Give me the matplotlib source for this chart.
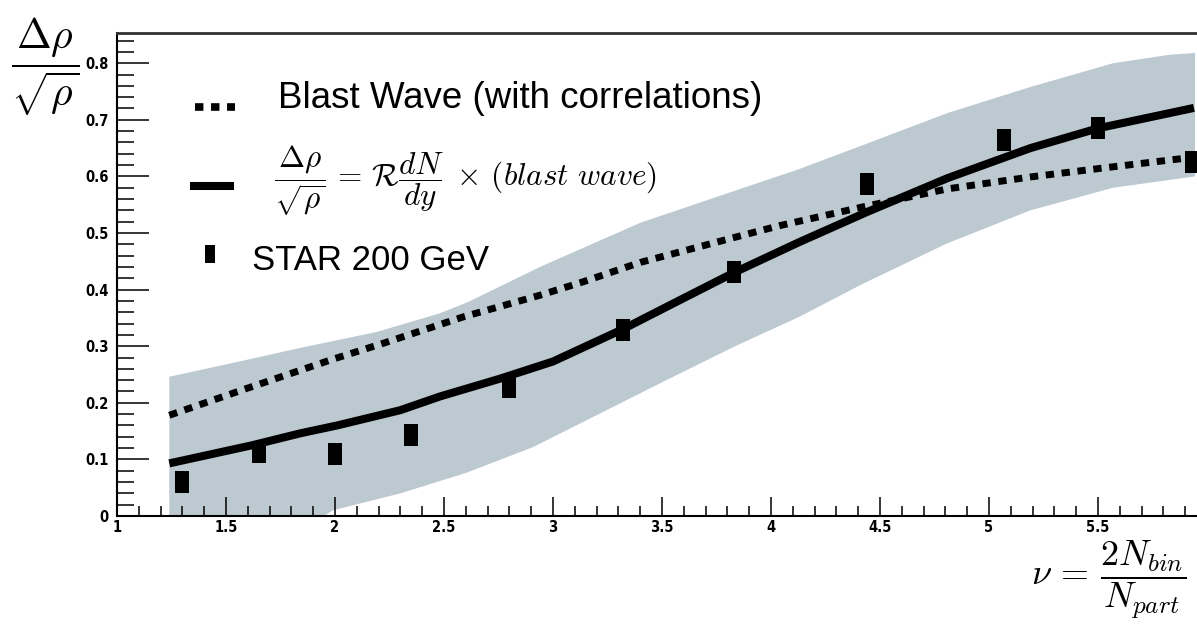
import numpy as np
import matplotlib
matplotlib.use("Agg")
import matplotlib.pyplot as plt
from matplotlib.lines import Line2D
from matplotlib.path import Path
from matplotlib.ticker import MultipleLocator

plt.rcParams['mathtext.fontset'] = 'cm'

# STAR 200 GeV points
star_x = [1.30, 1.65, 2.00, 2.35, 2.80, 3.32, 3.83, 4.44, 5.07, 5.50, 5.93]
star_y = [0.060, 0.113, 0.110, 0.143, 0.228, 0.329, 0.431, 0.587, 0.664, 0.685, 0.625]

# R dN/dy x (blast wave), solid curve
scaled_x = [1.24, 1.62, 1.84, 2.01, 2.30, 2.48, 2.76, 3.00, 3.32, 3.60, 3.83,
            4.13, 4.44, 4.81, 5.19, 5.50, 5.94]
scaled_y = [0.093, 0.125, 0.146, 0.160, 0.187, 0.211, 0.243, 0.273, 0.330, 0.385, 0.430,
            0.484, 0.537, 0.597, 0.650, 0.685, 0.721]

# blast wave with correlations, dotted curve
bw_x = [1.24, 1.60, 1.99, 2.22, 2.59, 2.94, 3.14, 3.40, 3.86, 4.04, 4.42,
        4.81, 5.19, 5.57, 5.94]
bw_y = [0.178, 0.226, 0.277, 0.305, 0.352, 0.390, 0.414, 0.448, 0.495, 0.513, 0.546,
        0.578, 0.599, 0.617, 0.634]

# uncertainty band edges
band_hi_x = [1.24, 1.62, 1.84, 2.19, 2.48, 2.61, 2.94, 3.40, 3.86, 4.13, 4.42,
             4.81, 5.19, 5.57, 5.83, 5.945]
band_hi_y = [0.246, 0.278, 0.297, 0.325, 0.358, 0.378, 0.440, 0.518, 0.578, 0.613, 0.655,
             0.712, 0.758, 0.800, 0.815, 0.818]
band_lo_x = [1.24, 1.95, 1.99, 2.30, 2.60, 2.91, 3.22, 3.52, 3.83, 4.13, 4.42, 4.81,
             5.19, 5.57, 5.945]
band_lo_y = [0.0, 0.0, 0.010, 0.040, 0.076, 0.122, 0.182, 0.240, 0.299, 0.352, 0.410, 0.482,
             0.540, 0.580, 0.600]

x_ticks = [1, 1.5, 2, 2.5, 3, 3.5, 4, 4.5, 5, 5.5]
x_labels = ['1', '1.5', '2', '2.5', '3', '3.5', '4', '4.5', '5', '5.5']
y_ticks = [0, 0.1, 0.2, 0.3, 0.4, 0.5, 0.6, 0.7, 0.8]
y_labels = ['0', '0.1', '0.2', '0.3', '0.4', '0.5', '0.6', '0.7', '0.8']

W, H = 1197, 625
fig = plt.figure(figsize=(W / 100, H / 100), dpi=100)
x0, x1, ytop, ybot = 117, 1197, 33, 516
ax = fig.add_axes([x0 / W, (H - ybot) / H, (x1 - x0) / W, (ybot - ytop) / H])

band = '#bdc9d1'
ax.fill(np.concatenate([band_hi_x, band_lo_x[::-1]]),
        np.concatenate([band_hi_y, band_lo_y[::-1]]),
        color=band, lw=0, zorder=1)

ax.plot(bw_x, bw_y, color='black', lw=5, dashes=(1.2, 1.1),
        dash_capstyle='butt', zorder=3)
ax.plot(scaled_x, scaled_y, color='black', lw=5.8, solid_capstyle='butt', zorder=4)

rect = Path([(-0.3, -0.5), (0.3, -0.5), (0.3, 0.5), (-0.3, 0.5), (-0.3, -0.5)],
            [Path.MOVETO, Path.LINETO, Path.LINETO, Path.LINETO, Path.CLOSEPOLY])
ax.plot(star_x, star_y, ls='none', marker=rect, ms=16, color='black',
        markeredgewidth=0, zorder=5)

ax.set_xlim(1, 1 + (x1 - x0) / 218.0)
ax.set_ylim(0, (ybot - ytop) / 566.0)

tick_font = dict(family=['DejaVu Sans'], weight='bold', size=10.5, stretch='condensed')
ax.set_xticks(x_ticks)
ax.set_xticklabels(x_labels, fontdict=tick_font)
ax.set_yticks(y_ticks)
ax.set_yticklabels(y_labels, fontdict=tick_font)
ax.xaxis.set_minor_locator(MultipleLocator(0.1))
ax.yaxis.set_minor_locator(MultipleLocator(0.02))
ax.tick_params(axis='x', which='major', direction='in', length=14, width=1.1, pad=3)
ax.tick_params(axis='x', which='minor', direction='in', length=7.5, width=1.1)
ax.tick_params(axis='y', which='major', direction='in', length=23, width=1.1, pad=6)
ax.tick_params(axis='y', which='minor', direction='in', length=12, width=1.1)
ax.tick_params(top=False, right=False, which='both')

ax.spines['right'].set_visible(False)
for s in ['left', 'bottom']:
    ax.spines[s].set_linewidth(1.5)
ax.spines['top'].set_linewidth(2)
ax.spines['top'].set_color('#333333')

# axis titles
fig.text(45 / W, 1 - 67 / H, r'$\dfrac{\Delta\rho}{\sqrt{\rho}}$', fontsize=30,
         ha='center', va='center')
fig.text(1186 / W, 1 - 580 / H, r'$\nu\,=\,\dfrac{2N_{bin}}{N_{part}}$', fontsize=26,
         ha='right', va='center')

# legend drawn by hand
def fpx(px, py):
    return px / W, 1 - py / H

lx, ly = zip(fpx(195, 107), fpx(235, 107))
fig.add_artist(Line2D(lx, ly, color='black', lw=5.5, dashes=(1.1, 1.0), dash_capstyle='butt'))
lx, ly = zip(fpx(190, 186), fpx(234, 186))
fig.add_artist(Line2D(lx, ly, color='black', lw=5.8, solid_capstyle='butt'))
mx, my = fpx(210, 254)
fig.add_artist(Line2D([mx], [my], ls='none', marker=rect, ms=12.5, color='black',
                      markeredgewidth=0))

txt_font = ['Liberation Sans', 'DejaVu Sans']
fig.text(*fpx(278, 108), 'Blast Wave (with correlations)', family=txt_font, fontsize=26.5,
         va='baseline', ha='left')
fig.text(*fpx(274, 181),
         r'$\dfrac{\Delta\rho}{\sqrt{\rho}}\,=\,\mathcal{R}\dfrac{dN}{dy}\;\times\,(blast\ wave)$',
         fontsize=22.5, va='center', ha='left')
fig.text(*fpx(252, 270), 'STAR 200 GeV', family=txt_font, fontsize=25,
         va='baseline', ha='left')

fig.savefig('out.png', dpi=100)
